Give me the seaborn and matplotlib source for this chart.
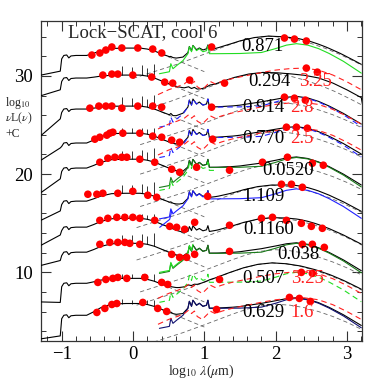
import numpy as np
import matplotlib
matplotlib.use("Agg")
import matplotlib.pyplot as plt
from matplotlib.ticker import MultipleLocator
import seaborn as sns

# ---------------- templates (log10 lambda, dex) ----------------
STAR_X = [-1.29, -1.02,
          -1.00, -0.97, -0.93, -0.90, -0.87, -0.80, -0.65, -0.55, -0.45, -0.30,
          -0.10, 0.10, 0.20, 0.30, 0.40, 0.50, 0.60, 0.70, 0.80, 0.90, 1.00, 1.20, 1.40, 1.60]
BLUE_OFF = [-0.35, 0.0, 0.05, -0.25, -0.05, 0.0, 0.0]
STAR_RED = [0.0, 0.0, -0.1, -0.3, -0.6, -0.9, -1.2, -1.5, -1.8, -2.1, -2.4, -3.0, -3.6, -4.2]

CIR_DX = [-2.1, -1.9, -1.6, -1.3, -1.0, -0.8, -0.6, -0.4, -0.2, 0.0, 0.2, 0.4, 0.6, 0.8, 1.0, 1.2, 1.4]
CIR_DY = [-4.8, -4.3, -3.6, -2.9, -2.1, -1.55, -1.0, -0.5, -0.15, 0.0, -0.1, -0.35, -0.75, -1.25, -1.85, -2.55, -3.3]

SB_X = [0.37, 0.51, 0.53, 0.56, 0.61, 0.70, 0.77, 0.79, 0.82, 0.84, 0.89, 0.93, 0.98, 1.03, 1.05, 1.07,
        1.17, 1.50, 1.80, 2.00, 2.15, 2.29, 2.45, 2.60, 2.75, 2.95, 3.20]
SB_Y = [-3.06, -2.86, -2.04, -2.55, -2.24, -1.73, -1.02, -0.31, -0.82, -0.20, -0.71, -0.51, -0.82, -0.71, -0.20, -1.02,
        -1.02, -1.00, -0.90, -0.50, -0.15, 0.0, -0.15, -0.5, -1.0, -1.8, -3.0]

ARP_X = [0.35, 0.50, 0.62, 0.72, 0.78, 0.82, 0.86, 0.90, 0.97, 1.04, 1.08, 1.15, 1.25, 1.40, 1.60, 1.80,
         2.00, 2.20, 2.40, 2.60, 2.80, 3.00, 3.20]
ARP_Y = [-2.7, -2.2, -1.9, -1.6, -1.25, -1.6, -1.35, -1.9, -2.2, -1.7, -1.35, -1.6, -1.35, -1.05, -0.75, -0.45,
         -0.2, -0.05, 0.0, -0.2, -0.7, -1.4, -2.2]

SPIKE_X = [-0.16, -0.02, 0.12, 0.19, 0.30]
SPIKE_H = [0.9, 0.8, 1.0, 0.8, 1.4]

# ---------------- per-SED values ----------------
LABELS = ["0.871", "0.294", "0.914", "0.770", "0.0520", "1.109", "0.1160", "0.038", "0.507", "0.629"]
LABEL_X = [1.82, 1.91, 1.83, 1.83, 2.18, 1.83, 1.90, 2.32, 1.83, 1.83]
LABEL_Y = [33.05, 29.48, 26.82, 23.66, 20.40, 17.74, 14.38, 11.83, 9.38, 5.91]
RED_LABELS = ["", "3.25", "2.8", "2.5", "", "", "", "", "3.25", "1.6"]
RED_X = [0, 2.56, 2.37, 2.37, 0, 0, 0, 0, 2.44, 2.37]

PLATEAU = [32.84, 30.09, 26.93, 24.17, 21.52, 18.05, 15.50, 12.95, 9.38, 6.82]
UV_LEFT = [-2.75, -2.1, -3.0, -2.75, -3.4, -2.75, -2.75, -2.25, -2.4, -3.6]
UV_RIGHT = [-2.35, -1.5, -1.3, -1.5, -2.0, -1.8, -1.7, -1.75, -2.45, -3.3]
BLUE_LEVEL = [-0.75, -0.3, -0.3, -1.0, -0.9, -0.8, -0.9, -0.9, -0.5, -1.2]
SPIKE_SCALE = [0.0, 1.0, 1.0, 0.6, 1.0, 1.0, 0.5, 1.0, 0.5, 0.5]

CIR_PEAK_X = [1.90, 1.82, 2.00, 2.00, 2.00, 1.95, 1.95, 2.00, 1.95, 2.00]
CIR_PEAK_Y = [34.05, 30.30, 27.30, 24.30, 21.00, 18.85, 15.55, 12.30, 10.95, 6.75]

COMP_SED = [0, 1, 1, 2, 2, 3, 3, 4, 4, 5, 6, 7, 7, 8, 8, 8, 9, 9]
COMP_TMPL = ["sb", "arp", "arp", "sb", "arp", "sb", "arp", "sb", "sb", "sb", "sb", "sb", "sb", "sb", "arp", "arp", "sb", "arp"]
COMP_LEVEL = [33.29, 30.80, 29.90, 27.85, 27.30, 24.75, 24.65, 21.70, 21.40, 18.50, 14.90, 12.95, 13.05,
              10.00, 10.05, 9.60, 7.35, 7.40]
COMP_COLOR = ["#22dd22", "#ff2020", None, "#2020ff", "#ff2020", "#2020ff", "#ff2020", "#1a7a1a", "#22dd22",
              "#2020ff", None, "#1a7a1a", "#22dd22", "#22dd22", "#ff2020", None, "#101070", "#ff2020"]
COMP_LS = ["-", "--", "", "--", "--", "--", "--", "-", "--", "-", "", "-", "-", "--", "--", "", "-", "--"]
COMP_IN_TOTAL = [1, 0, 1, 1, 0, 1, 0, 1, 0, 1, 1, 1, 0, 0, 0, 1, 1, 0]
COMP_XMAX = [3.2, 3.2, 3.2, 3.2, 3.2, 3.2, 3.2, 3.2, 1.3, 3.2, 3.2, 3.2, 0.85, 3.2, 3.2, 3.2, 3.2, 3.2]

BLUE7_X = [0.374, 0.514, 0.542]
BLUE7_Y = [14.58, 15.39, 16.21]

DOT_X = [
    [-0.577, -0.465, -0.381, -0.297, -0.157, 0.067, 0.276, 0.402, 1.102, 2.123, 2.263, 2.430],
    [-0.423, -0.297, -0.213, -0.003, 0.262, 0.444, 0.556, 0.794, 1.283, 2.430, 2.584],
    [-0.605, -0.479, -0.381, -0.297, -0.157, 0.067, 0.276, 0.402, 1.102, 2.123, 2.263, 2.416],
    [-0.535, -0.465, -0.367, -0.325, -0.283, -0.143, 0.095, 0.276, 0.402, 0.542, 0.654, 1.116, 2.151, 2.291, 2.444],
    [-0.465, -0.353, -0.255, -0.157, -0.087, 0.095, 0.304, 0.542, 0.654, 0.892, 1.353, 1.815, 2.165, 2.514, 2.668],
    [-0.633, -0.507, -0.423, -0.213, -0.003, 0.207, 0.332, 1.046, 2.081, 2.221, 2.374],
    [-0.465, -0.353, -0.227, -0.115, -0.003, 0.095, 0.304, 0.514, 0.612, 0.724, 0.864, 1.353, 1.801, 1.955, 2.151,
     2.360, 2.500, 2.654],
    [-0.465, -0.325, -0.213, -0.115, -0.045, 0.095, 0.542, 0.654, 0.752, 0.864, 1.353, 2.374, 2.514, 2.682],
    [-0.493, -0.381, -0.283, -0.213, -0.087, 0.165, 0.402, 0.486, 1.213, 2.360, 2.514],
    [-0.507, -0.395, -0.297, -0.227, 0.137, 0.346, 0.472, 1.171, 2.193, 2.332, 2.486],
]
DOT_Y = [
    [32.13, 32.34, 32.64, 32.95, 32.85, 32.85, 32.74, 32.34, 32.95, 33.87, 33.76, 33.56],
    [30.09, 30.19, 30.19, 30.09, 29.89, 29.37, 29.27, 29.58, 29.27, 30.80, 30.39],
    [26.72, 26.93, 26.93, 26.93, 26.72, 26.93, 26.93, 26.82, 26.82, 27.84, 27.74, 27.54],
    [23.56, 23.76, 23.97, 24.17, 24.27, 24.17, 24.17, 23.87, 23.76, 23.46, 23.25, 23.56, 24.78, 24.78, 24.68],
    [21.21, 21.62, 21.72, 21.72, 21.72, 21.52, 21.21, 20.50, 20.19, 20.70, 20.40, 21.21, 21.72, 21.11, 20.91],
    [17.95, 17.95, 18.05, 18.05, 18.25, 17.85, 17.64, 17.74, 18.97, 18.97, 18.66],
    [15.29, 15.50, 15.60, 15.60, 15.60, 15.50, 15.29, 14.68, 14.58, 14.38, 15.09, 14.79, 15.50, 15.60, 15.29,
     14.99, 14.68, 14.48],
    [12.85, 13.05, 13.05, 13.05, 12.95, 12.85, 11.83, 11.52, 11.52, 11.83, 12.13, 12.85, 12.85, 12.54],
    [8.97, 9.27, 9.38, 9.48, 9.38, 9.48, 8.97, 8.76, 9.27, 9.99, 9.89],
    [5.91, 6.32, 6.72, 6.82, 6.93, 6.32, 6.01, 6.21, 7.44, 7.34, 7.03],
]

TITLE = "Lock\u2212SCAT, cool 6"
XTICKS = [-1, 0, 1, 2, 3]
YTICKS = [10, 20, 30]

TEMPLATES = {"sb": (SB_X, SB_Y), "arp": (ARP_X, ARP_Y)}

# ---------------- style ----------------
sns.set_theme(style="ticks")
plt.rcParams.update({
    "font.family": ["Liberation Serif", "DejaVu Serif"],
    "mathtext.fontset": "stix",
    "axes.linewidth": 0.9,
    "axes.edgecolor": "#333333",
    "xtick.direction": "in", "ytick.direction": "in",
    "xtick.top": True, "ytick.right": True,
    "xtick.color": "#333333", "ytick.color": "#333333",
    "xtick.labelcolor": "black", "ytick.labelcolor": "black",
    "lines.dashed_pattern": [5.0, 3.5],
})

fig = plt.figure(figsize=(3.82, 3.82), dpi=100)
ax = fig.add_axes([41 / 382, 1 - 341 / 382, (362 - 41) / 382, (341 - 21) / 382])


def star_curve(i):
    b = BLUE_LEVEL[i]
    blue = [b + o for o in BLUE_OFF] + [0.7 * b, 0.35 * b, 0.05 * b]
    rel = [UV_LEFT[i], UV_RIGHT[i]] + blue + STAR_RED
    return np.array(STAR_X), PLATEAU[i] + np.array(rel)


def cirrus_curve(i):
    return CIR_PEAK_X[i] + np.array(CIR_DX), CIR_PEAK_Y[i] + np.array(CIR_DY)


def comp_curve(k):
    tx, ty = TEMPLATES[COMP_TMPL[k]]
    return np.array(tx), COMP_LEVEL[k] + np.array(ty)


def line(x, y, color, ls="-", lw=0.8, z=2):
    sns.lineplot(x=x, y=y, ax=ax, color=color, linestyle=ls, lw=lw,
                 sort=False, estimator=None, zorder=z)


for i in range(len(PLATEAU)):
    sx, sy = star_curve(i)
    cx, cy = cirrus_curve(i)
    parts = [(sx, sy), (cx, cy)]
    comps = [k for k in range(len(COMP_SED)) if COMP_SED[k] == i]
    for k in comps:
        if COMP_IN_TOTAL[k]:
            parts.append(comp_curve(k))
    grid = np.unique(np.concatenate([p[0] for p in parts]))
    grid = grid[(grid >= -1.29) & (grid <= 3.22)]
    lin = np.zeros_like(grid)
    for px_, py_ in parts:
        lin += 10.0 ** np.interp(grid, px_, py_, left=-99, right=-99)
    tot = np.log10(lin)

    # dashed components
    m = cx >= 0.0
    line(cx[m], cy[m], "#666666", "--", 0.6, 1)
    ms = (sx >= 0.4) & (sx <= 1.0)
    line(sx[ms], sy[ms], "#666666", "--", 0.6, 1)

    # total
    line(grid, tot, "black", "-", 0.8, 3)

    # emission-line spikes
    if SPIKE_SCALE[i] > 0:
        base = np.interp(SPIKE_X, grid, tot)
        ax.vlines(SPIKE_X, base, base + SPIKE_SCALE[i] * np.array(SPIKE_H),
                  color="black", lw=0.55, zorder=3)

    # coloured components
    for k in comps:
        if COMP_COLOR[k] is None:
            continue
        x, y = comp_curve(k)
        mk = x <= COMP_XMAX[k]
        line(x[mk], y[mk], COMP_COLOR[k], COMP_LS[k], 0.8, 4)

    # data points
    sns.scatterplot(x=DOT_X[i], y=DOT_Y[i], ax=ax, color="#ff0000", s=30,
                    edgecolor="none", zorder=6)

    ax.text(LABEL_X[i], LABEL_Y[i], LABELS[i], ha="center", va="center",
            fontsize=13.5, color="black", zorder=7)
    if RED_LABELS[i]:
        ax.text(RED_X[i], LABEL_Y[i], RED_LABELS[i], ha="center", va="center",
                fontsize=13.5, color="#ff2020", zorder=7)

line(BLUE7_X, BLUE7_Y, "#2020ff", "-", 0.8, 4)

ax.text(-0.91, 34.38, TITLE, ha="left", va="center", fontsize=13.5, zorder=7)

ax.set_xlim(-1.29, 3.21)
ax.set_ylim(3.0, 35.6)
ax.set_xticks(XTICKS)
ax.set_yticks(YTICKS)
ax.xaxis.set_minor_locator(MultipleLocator(0.2))
ax.yaxis.set_minor_locator(MultipleLocator(2))
ax.tick_params(which="major", length=7, width=0.8, labelsize=13.5)
ax.tick_params(axis="x", which="major", pad=3.5)
ax.tick_params(axis="y", which="major", pad=6)
ax.tick_params(which="minor", length=3.5, width=0.7)
ax.set_xlabel("")
ax.set_ylabel("")

fig.text(201 / 382, 1 - 371 / 382, r"log$_{10}$ $\lambda$($\mu$m)", ha="center", va="center", fontsize=10)
fig.text(5 / 382, 1 - 103 / 382, r"log$_{10}$", ha="left", va="center", fontsize=8.5)
fig.text(5 / 382, 1 - 118 / 382, r"$\nu$L($\nu$)", ha="left", va="center", fontsize=8.5)
fig.text(5 / 382, 1 - 134 / 382, "+C", ha="left", va="center", fontsize=8.5)

fig.savefig("out.png", dpi=100)
